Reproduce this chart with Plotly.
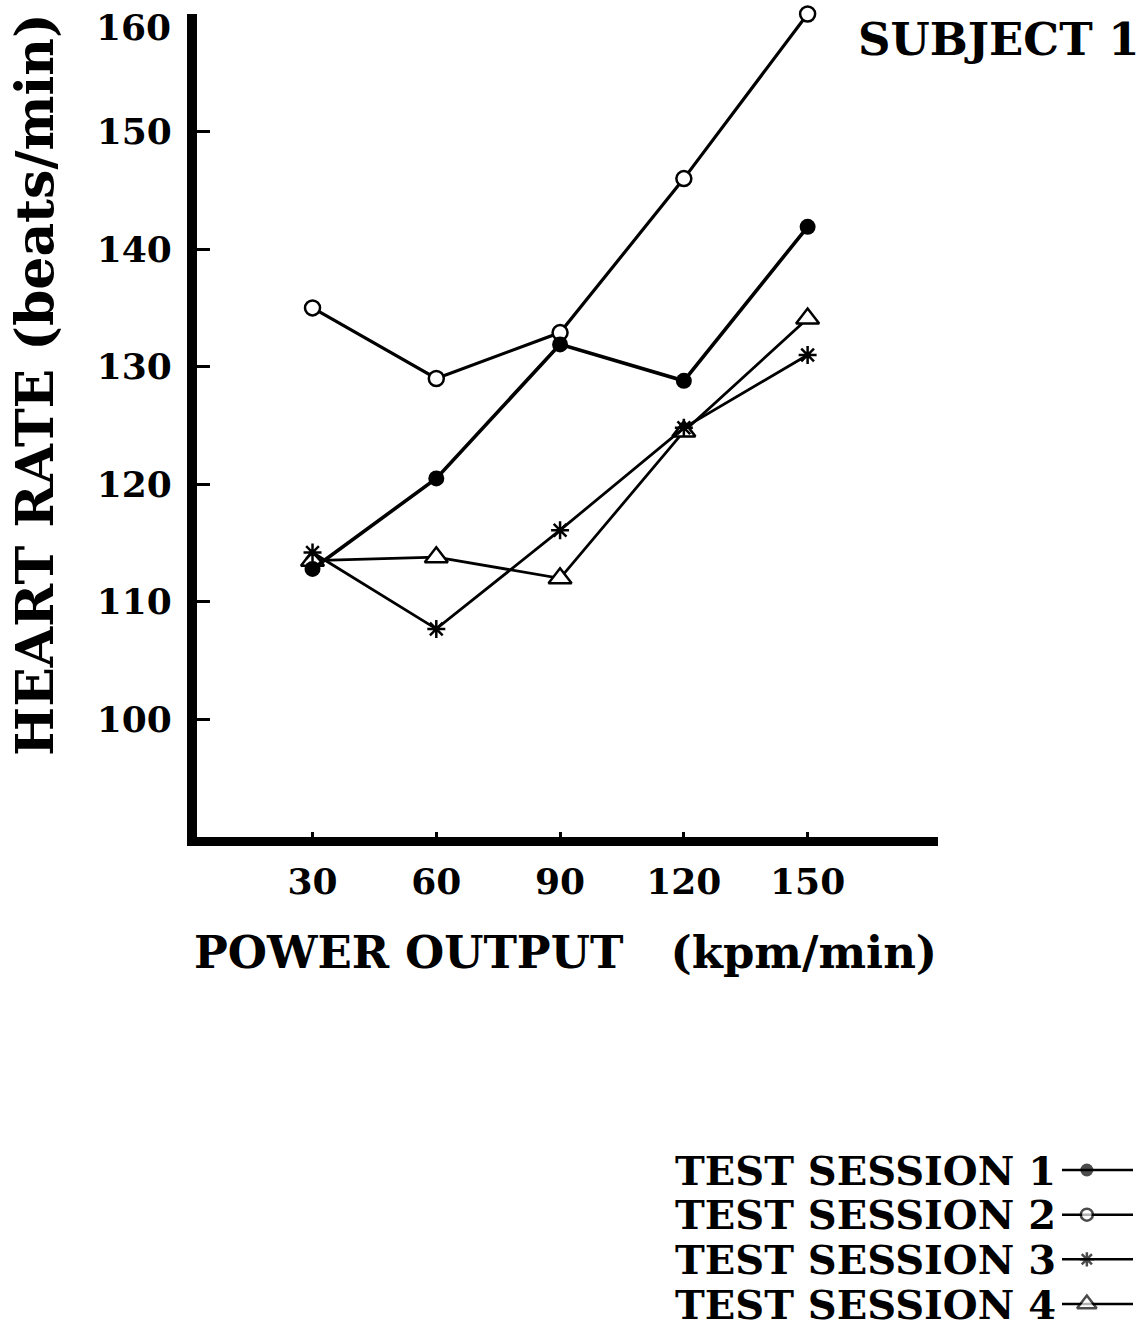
import plotly.graph_objects as go

# Heart rate (beats/min) at each power output (kpm/min), subject 1
power_output = [30, 60, 90, 120, 150]
session_1 = [112.8, 120.5, 131.9, 128.8, 141.9]
session_2 = [135.0, 129.0, 132.9, 146.0, 160.0]
session_3 = [114.2, 107.7, 116.1, 124.8, 131.0]
session_4 = [113.5, 113.8, 112.0, 124.5, 134.1]

y_ticks = [100, 110, 120, 130, 140, 150, 160]
x_ticks = [30, 60, 90, 120, 150]

session_names = ["TEST SESSION 1", "TEST SESSION 2", "TEST SESSION 3", "TEST SESSION 4"]

W, H = 1145, 1332
FONT = "DejaVu Serif"
INK = "black"


def px(x):
    return x / W


def py(y):
    return 1 - y / H


styles = [
    dict(symbol="circle", size=16, color=INK, line=dict(color=INK, width=0), lw=3.6),
    dict(symbol="circle", size=15, color="white", line=dict(color=INK, width=2.5), lw=3.2),
    dict(symbol="asterisk-open", size=15, color=INK, line=dict(color=INK, width=2.5), lw=2.8),
    dict(symbol="triangle-up", size=20, color="white", line=dict(color=INK, width=2.5), lw=2.8),
]
series = [session_1, session_2, session_3, session_4]

fig = go.Figure()

# draw later sessions first so session 1 sits on top
for idx in [3, 2, 1, 0]:
    st = styles[idx]
    fig.add_trace(go.Scatter(
        x=power_output, y=series[idx], mode="lines+markers",
        name=session_names[idx],
        line=dict(color=INK, width=st["lw"]),
        marker=dict(symbol=st["symbol"], size=st["size"], color=st["color"], line=st["line"]),
        cliponaxis=False, showlegend=False,
    ))

# legend keys: short line with the session marker, on a hidden axis pair
for i, st in enumerate(styles):
    fig.add_trace(go.Scatter(
        x=[0, 0.35, 1], y=[i, i, i], mode="lines+markers",
        xaxis="x2", yaxis="y2",
        line=dict(color=INK, width=2.5),
        marker=dict(symbol=st["symbol"], size=[0, st["size"] - 3, 0], color=st["color"],
                    line=st["line"]),
        cliponaxis=False, showlegend=False, hoverinfo="skip",
    ))

tick_font = dict(family=FONT, size=36, color=INK, weight="bold")
title_font = dict(family=FONT, size=45, color=INK, weight="bold")
ytitle_font = dict(family=FONT, size=52, color=INK, weight="bold")
legend_font = dict(family=FONT, size=40, color=INK, weight="bold")
subject_font = dict(family=FONT, size=45, color=INK, weight="bold")

# the top label sits just below the top of the axis, so it is placed separately
y_ticktext = [str(v) if v != y_ticks[-1] else "" for v in y_ticks]

fig.update_layout(
    width=W, height=H,
    margin=dict(l=0, r=0, t=0, b=0),
    paper_bgcolor="white", plot_bgcolor="white",
    xaxis=dict(
        domain=[px(197), px(938)],
        range=[2.0, 181.6], tickvals=x_ticks, ticktext=[str(v) for v in x_ticks],
        showgrid=False, zeroline=False, showline=True, linewidth=9, linecolor=INK,
        ticks="inside", ticklen=5, tickwidth=3, tickcolor=INK,
        tickfont=tick_font, ticklabelstandoff=5, automargin=False,
    ),
    yaxis=dict(
        domain=[py(837), py(14)],
        range=[90.0, 160.0], tickvals=y_ticks, ticktext=y_ticktext,
        showgrid=False, zeroline=False, showline=True, linewidth=10, linecolor=INK,
        ticks="inside", ticklen=13, tickwidth=3, tickcolor=INK,
        tickfont=tick_font, ticklabelstandoff=8, ticklabeloverflow="allow",
        automargin=False,
    ),
    xaxis2=dict(domain=[px(1062), px(1133)], range=[0, 1], visible=False, anchor="y2"),
    yaxis2=dict(domain=[py(1325), py(1150)], range=[3.47, -0.448], visible=False, anchor="x2"),
    showlegend=False,
)

fig.add_annotation(text=str(y_ticks[-1]), xref="paper", yref="y",
                   x=px(173), y=y_ticks[-1], yshift=-13,
                   xanchor="right", yanchor="middle",
                   showarrow=False, font=tick_font)
fig.add_annotation(text="SUBJECT 1", xref="paper", yref="paper",
                   x=px(1142), y=py(40), xanchor="right", yanchor="middle",
                   showarrow=False, font=subject_font)
fig.add_annotation(text="POWER OUTPUT\u00a0\u00a0\u00a0(kpm/min)", xref="paper", yref="paper",
                   x=px(565), y=py(952), xanchor="center", yanchor="middle",
                   showarrow=False, font=title_font)
fig.add_annotation(text="HEART RATE (beats/min)", xref="paper", yref="paper",
                   x=px(34), y=py(385), xanchor="center", yanchor="middle", textangle=-90,
                   showarrow=False, font=ytitle_font)
for i, name in enumerate(session_names):
    fig.add_annotation(text=name, xref="x2", yref="y2", x=0, y=i,
                       xanchor="right", yanchor="middle", xshift=-4,
                       showarrow=False, font=legend_font)

fig.write_html("out.html")
